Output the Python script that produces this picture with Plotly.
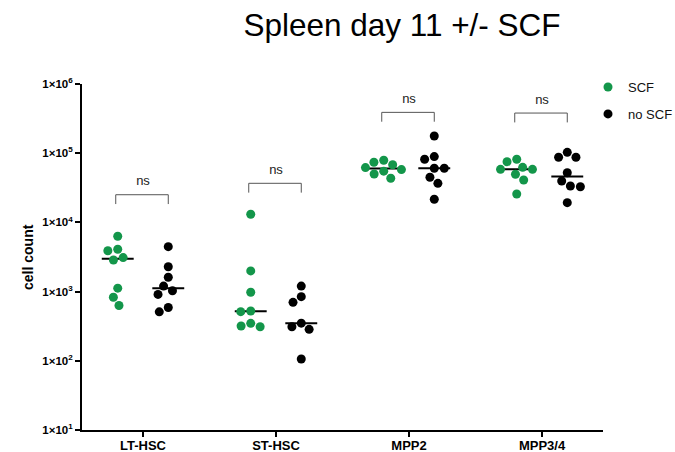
import numpy as np
import plotly.graph_objects as go

# ---------------- data ----------------
categories = ["LT-HSC", "ST-HSC", "MPP2", "MPP3/4"]
y_tick_vals = [10, 100, 1000, 10000, 100000, 1000000]
y_tick_text = ["1×10<sup>1</sup>", "1×10<sup>2</sup>", "1×10<sup>3</sup>",
               "1×10<sup>4</sup>", "1×10<sup>5</sup>", "1×10<sup>6</sup>"]

scf_lt = [6300, 4100, 3900, 3100, 2860, 1120, 830, 630]
scf_st = [13100, 1990, 980, 525, 513, 348, 318, 311]
scf_mpp2 = [79000, 74000, 68000, 62000, 58000, 55000, 50000, 43400]
scf_mpp34 = [81700, 75300, 62500, 58500, 58500, 49600, 41000, 25700]

noscf_lt = [4460, 2290, 1610, 1200, 1030, 910, 590, 510]
noscf_st = [1200, 845, 700, 350, 311, 285, 106]
noscf_mpp2 = [177000, 89300, 81700, 60600, 60600, 44900, 36700, 21600]
noscf_mpp34 = [103000, 87300, 87300, 52200, 39600, 33600, 32800, 19300]

sig_labels = ["ns", "ns", "ns", "ns"]
bracket_top_log = [4.40, 4.565, 5.59, 5.58]   # annotation heights (log10)

# ---------------- styling / layout constants ----------------
W, H = 675, 452
ML, MR, MT, MB = 82, 72, 84, 22
PX_PER_UNIT = 133.0
PX_PER_DECADE = 69.2
X0 = -61.0 / PX_PER_UNIT
X1 = X0 + (W - ML - MR) / PX_PER_UNIT
GROUP_OFF = 0.19
MED_HALF = 0.12
GREEN = "#13964a"
FONT = "Liberation Sans, Arial, Helvetica, sans-serif"
MS = 9
PW = W - ML - MR
PH = H - MT - MB


def swarm(vals, D=10.0):
    ys = np.log10(np.asarray(vals, dtype=float)) * PX_PER_DECADE
    placed = []
    xs = []
    for y in ys:
        cands = [0.0]
        for px, py in placed:
            dy = abs(y - py)
            if dy < D:
                dx = np.sqrt(D * D - dy * dy)
                cands += [px + dx, px - dx]
        cands = sorted(cands, key=lambda c: (abs(c), c))
        chosen = cands[-1]
        for c in cands:
            if all((c - px) ** 2 + (y - py) ** 2 >= D * D - 1e-6 for px, py in placed):
                chosen = c
                break
        placed.append((chosen, y))
        xs.append(chosen / PX_PER_UNIT)
    return xs


scf_groups = [scf_lt, scf_st, scf_mpp2, scf_mpp34]
noscf_groups = [noscf_lt, noscf_st, noscf_mpp2, noscf_mpp34]

fig = go.Figure()

# median lines (drawn under the points)
for i in range(len(categories)):
    for grp, off in ((scf_groups[i], -GROUP_OFF), (noscf_groups[i], GROUP_OFF)):
        m = float(np.median(grp))
        c = i + off
        fig.add_trace(go.Scatter(x=[c - MED_HALF, c + MED_HALF], y=[m, m], mode="lines",
                                 line=dict(color="black", width=2), showlegend=False,
                                 hoverinfo="skip"))


def build(groups, off):
    xs, ys = [], []
    for i, grp in enumerate(groups):
        sw = swarm(grp)
        xs += [i + off + s for s in sw]
        ys += list(grp)
    return xs, ys


sx, sy = build(scf_groups, -GROUP_OFF)
nx, ny = build(noscf_groups, GROUP_OFF)
fig.add_trace(go.Scatter(x=sx, y=sy, mode="markers", name="SCF", legendgroup="a",
                         marker=dict(color=GREEN, size=MS, line=dict(width=0))))
fig.add_trace(go.Scatter(x=nx, y=ny, mode="markers", name="no SCF", legendgroup="b",
                         marker=dict(color="black", size=MS, line=dict(width=0))))

# significance brackets
LEG = 0.135
for i, lab in enumerate(sig_labels):
    top = 10 ** bracket_top_log[i]
    bot = 10 ** (bracket_top_log[i] - LEG)
    xa, xb = i - 0.205, i + 0.19
    fig.add_trace(go.Scatter(x=[xa, xa, xb, xb], y=[bot, top, top, bot], mode="lines",
                             line=dict(color="#555555", width=1), showlegend=False,
                             hoverinfo="skip"))
    fig.add_trace(go.Scatter(x=[i], y=[10 ** (bracket_top_log[i] + 0.185)], mode="text",
                             text=[lab], textposition="middle center",
                             textfont=dict(size=13, color="#222222", family=FONT),
                             showlegend=False, hoverinfo="skip"))

fig.update_layout(
    width=W, height=H,
    margin=dict(l=ML, r=MR, t=MT, b=MB, pad=0, autoexpand=False),
    paper_bgcolor="white", plot_bgcolor="white",
    font=dict(family=FONT, color="black"),
    title=dict(text="Spleen day 11 +/- SCF", x=402 / W, xanchor="center", xref="container",
               y=1 - 25 / H, yanchor="middle", yref="container",
               font=dict(size=31.5, color="black", family=FONT)),
    showlegend=True,
    legend=dict(x=(588 - ML) / PW, xanchor="left", y=1.02 + 5 / PH, yanchor="top",
                font=dict(size=13, color="#111111", family=FONT),
                tracegroupgap=7, bgcolor="rgba(0,0,0,0)", borderwidth=0),
    xaxis=dict(range=[X0, X1], tickmode="array", tickvals=list(range(len(categories))),
               ticktext=["<b>%s</b>" % c for c in categories],
               showline=True, linecolor="black", linewidth=2, mirror=False,
               ticks="outside", ticklen=5, tickwidth=2, tickcolor="black",
               ticklabelstandoff=-3,
               tickfont=dict(size=13, family=FONT, color="black"),
               showgrid=False, zeroline=False, automargin=False, fixedrange=True),
    yaxis=dict(type="log", range=[1, 6], tickmode="array", tickvals=y_tick_vals,
               ticktext=["<b>%s</b>" % t for t in y_tick_text],
               showline=True, linecolor="black", linewidth=2,
               ticks="outside", ticklen=5, tickwidth=2, tickcolor="black",
               tickfont=dict(size=11.5, family=FONT, color="black"),
               showgrid=False, zeroline=False, automargin=False, fixedrange=True),
    annotations=[dict(text="<b>cell count</b>", xref="paper", yref="paper",
                      x=(28 - ML) / PW, y=0.5, xanchor="center", yanchor="middle",
                      textangle=-90, showarrow=False,
                      font=dict(size=14, family=FONT, color="black"))],
)

fig.write_html("out.html")
